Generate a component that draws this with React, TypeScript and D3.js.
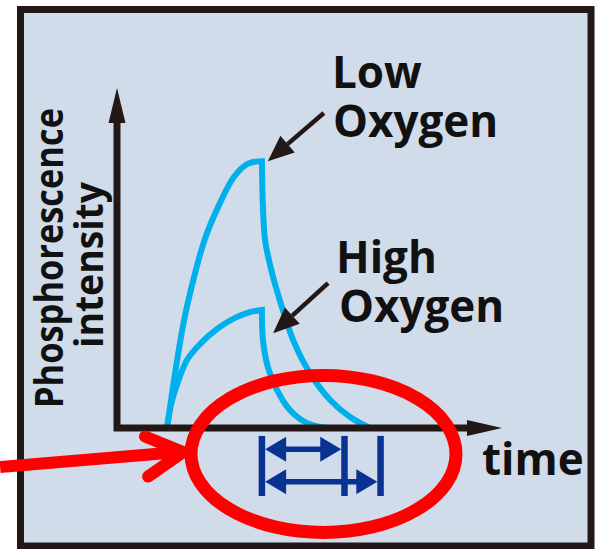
import React from "react";
import * as d3 from "d3";

const W = 600;
const H = 549;

// Phosphorescence curves: [time, intensity] (arbitrary units)
const lowRise: [number, number][] = [
  [14.3, 0], [16.6, 18.0], [19.0, 34.4], [21.8, 48.5], [25.0, 61.6],
  [28.9, 72.5], [33.4, 82.3], [37.3, 86.6], [41.4, 87.5],
];
const lowDecay: [number, number][] = [
  [41.4, 87.5], [41.7, 72.5], [42.3, 61.6], [44.3, 50.8], [47.1, 39.7],
  [50.3, 28.9], [55.1, 18.0], [60.9, 9.2], [66.6, 3.6], [72.3, 0],
];
const highRise: [number, number][] = [
  [14.3, 0], [15.4, 7.5], [17.1, 14.1], [20.0, 22.3], [23.7, 27.5],
  [28.6, 32.5], [33.7, 36.1], [38.0, 38.0], [41.4, 38.7],
];
const highDecay: [number, number][] = [
  [41.4, 38.7], [41.7, 28.9], [43.1, 20.0], [45.7, 12.5], [49.4, 5.9],
  [54.3, 1.6], [60.3, 0],
];

// Labels
const yLabelLines = ["Phosphorescence", "intensity"];
const xLabel = "time";
const seriesLabels = [["Low", "Oxygen"], ["High", "Oxygen"]];

// Annotation arrows (tail -> tip) in data units
const labelArrows: [number, number, number, number][] = [
  [59.1, 103.3, 43.1, 87.5],
  [60.3, 47.5, 44.6, 31.1],
];

// Lifetime brackets: bar times and arrow rows [start, end, intensity]
const bracketBars = [41.4, 65.0, 75.3];
const bracketRows: [number, number, number][] = [
  [41.4, 65.0, -7.0],
  [41.4, 75.3, -17.6],
];

const C_BG = "#d0dcea";
const C_DARK = "#231815";
const C_CYAN = "#00b0ec";
const C_BLUE = "#0a3292";
const C_RED = "#ff0000";
const FONT = "'Open Sans', 'DejaVu Sans', sans-serif";

export default function App() {
  const x = d3.scaleLinear().domain([0, 100]).range([117, 467]);
  const y = d3.scaleLinear().domain([0, 100]).range([428, 123]);

  const line = d3
    .line<[number, number]>()
    .x((d) => x(d[0]))
    .y((d) => y(d[1]))
    .curve(d3.curveCatmullRom.alpha(0.5));

  const joined = (a: [number, number][], b: [number, number][]) =>
    (line(a) || "") + (line(b) || "").replace(/^M[-\d.,e]*/, "");

  const arrowHead = (x1: number, y1: number, x2: number, y2: number, len: number, hw: number) => {
    const dx = x2 - x1, dy = y2 - y1;
    const L = Math.hypot(dx, dy);
    const ux = dx / L, uy = dy / L;
    const bx = x2 - ux * len, by = y2 - uy * len;
    return {
      pts: `${x2},${y2} ${bx - uy * hw},${by + ux * hw} ${bx + uy * hw},${by - ux * hw}`,
      bx, by,
    };
  };

  // axes
  const x0 = x(0), y0 = y(0), xEnd = x(100), yEnd = y(100);
  const axisHead = 35;

  // bracket geometry
  const barW = 6.5;
  const barTop = y(-2.6), barBot = y(-22.3);

  // red highlight
  const ell = { cx: x(59), cy: y(-8.5), rx: 132.5, ry: 78.5 };
  const redTail = [x(-33.4), y(-12.8)];
  const redTip = [x(18.9), y(-7.9)];
  const chevTop = [x(8.0), y(-2.8)];
  const chevBot = [x(8.9), y(-15.9)];

  return (
    <svg
      width={W}
      height={H}
      style={{ position: "absolute", left: 0, top: 0, background: "#fff" }}
    >
      <rect x={20.5} y={9.5} width={570.5} height={536.5} fill={C_BG} stroke={C_DARK} strokeWidth={7} />

      {/* curves */}
      <path d={joined(lowRise, lowDecay)} fill="none" stroke={C_CYAN} strokeWidth={6} strokeLinejoin="miter" />
      <path d={joined(highRise, highDecay)} fill="none" stroke={C_CYAN} strokeWidth={6} strokeLinejoin="miter" />

      {/* axes */}
      <path
        d={`M${x0},${yEnd}L${x0},${y0}L${xEnd},${y0}`}
        fill="none"
        stroke={C_DARK}
        strokeWidth={7}
        strokeLinejoin="miter"
      />
      <polygon points={`${x0},${yEnd - axisHead} ${x0 - 8.5},${yEnd} ${x0 + 8.5},${yEnd}`} fill={C_DARK} />
      <polygon points={`${xEnd + axisHead},${y0} ${xEnd},${y0 - 8} ${xEnd},${y0 + 8}`} fill={C_DARK} />

      {/* y label */}
      <text
        transform="translate(63,258) rotate(-90)"
        textAnchor="middle"
        fontFamily={FONT}
        fontWeight={700}
        fontSize={40}
        fill="#111"
        textLength={300}
        lengthAdjust="spacingAndGlyphs"
      >
        {yLabelLines[0]}
      </text>
      <text
        transform="translate(103,265) rotate(-90)"
        textAnchor="middle"
        fontFamily={FONT}
        fontWeight={700}
        fontSize={40}
        fill="#111"
        textLength={166}
        lengthAdjust="spacingAndGlyphs"
      >
        {yLabelLines[1]}
      </text>

      {/* x label */}
      <text x={482} y={475} fontFamily={FONT} fontWeight={700} fontSize={44} fill="#111">
        {xLabel}
      </text>

      {/* series labels */}
      <text fontFamily={FONT} fontWeight={700} fontSize={44} fill="#111">
        <tspan x={332} y={88}>{seriesLabels[0][0]}</tspan>
        <tspan x={333} y={137}>{seriesLabels[0][1]}</tspan>
      </text>
      <text fontFamily={FONT} fontWeight={700} fontSize={44} fill="#111">
        <tspan x={336} y={273}>{seriesLabels[1][0]}</tspan>
        <tspan x={339} y={322}>{seriesLabels[1][1]}</tspan>
      </text>

      {/* label arrows */}
      {labelArrows.map((a, i) => {
        const x1 = x(a[0]), y1 = y(a[1]), x2 = x(a[2]), y2 = y(a[3]);
        const h = arrowHead(x1, y1, x2, y2, 26, 11);
        return (
          <g key={i}>
            <line x1={x1} y1={y1} x2={h.bx} y2={h.by} stroke={C_DARK} strokeWidth={4.5} />
            <polygon points={h.pts} fill={C_DARK} />
          </g>
        );
      })}

      {/* lifetime brackets */}
      {bracketBars.map((t, i) => (
        <rect key={i} x={x(t) - barW / 2} y={barTop} width={barW} height={barBot - barTop} fill={C_BLUE} />
      ))}
      {bracketRows.map((r, i) => {
        const xa = x(r[0]) + barW / 2, xb = x(r[1]) - barW / 2, yy = y(r[2]);
        const hl = 21, hw = 12.5;
        return (
          <g key={i}>
            <line x1={xa + hl - 1} y1={yy} x2={xb - hl + 1} y2={yy} stroke={C_BLUE} strokeWidth={5.5} />
            <polygon points={`${xa},${yy} ${xa + hl},${yy - hw} ${xa + hl},${yy + hw}`} fill={C_BLUE} />
            <polygon points={`${xb},${yy} ${xb - hl},${yy - hw} ${xb - hl},${yy + hw}`} fill={C_BLUE} />
          </g>
        );
      })}

      {/* red highlight */}
      <ellipse cx={ell.cx} cy={ell.cy} rx={ell.rx} ry={ell.ry} fill="none" stroke={C_RED} strokeWidth={13} />
      <line x1={redTail[0]} y1={redTail[1]} x2={redTip[0] - 4} y2={redTip[1]} stroke={C_RED} strokeWidth={12} />
      <polyline
        points={`${chevTop[0]},${chevTop[1]} ${redTip[0]},${redTip[1]} ${chevBot[0]},${chevBot[1]}`}
        fill="none"
        stroke={C_RED}
        strokeWidth={12}
        strokeLinecap="round"
        strokeLinejoin="round"
      />
    </svg>
  );
}
